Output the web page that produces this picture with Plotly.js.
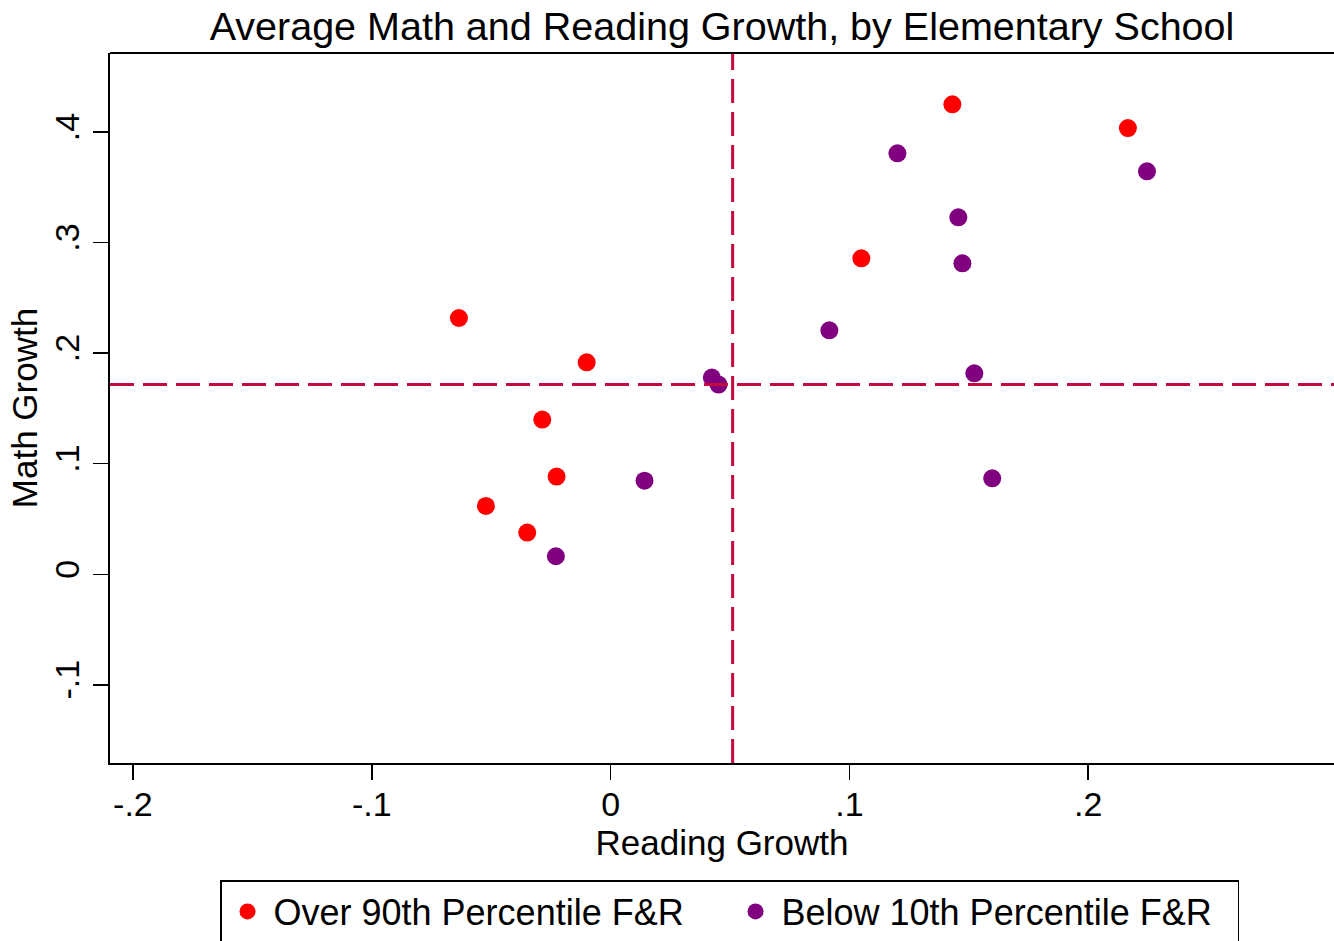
<!DOCTYPE html>
<html>
<head>
<meta charset="utf-8">
<script src="https://cdn.plot.ly/plotly-3.0.1.min.js"></script>
<style>
html,body{margin:0;padding:0;background:#fff;}
#chart{width:1334px;height:941px;}
</style>
</head>
<body>
<div id="chart"></div>
<script>
// Over 90th Percentile F&R
const overReading = [-0.0635, -0.0100, -0.0286, -0.0226, -0.0522, -0.0349, 0.1050, 0.1431, 0.2166];
const overMath    = [ 0.2318,  0.1917,  0.1399,  0.0884,  0.0618,  0.0377, 0.2858, 0.4251, 0.4036];
// Below 10th Percentile F&R
const belowReading = [0.1201, 0.1456, 0.1473, 0.0916, 0.1523, 0.1598, 0.2246, 0.0424, 0.0452, 0.0142, -0.0229];
const belowMath    = [0.3808, 0.3229, 0.2813, 0.2207, 0.1818, 0.0868, 0.3645, 0.1779, 0.1716, 0.0847,  0.0163];
// reference lines (means)
const meanReading = 0.0511;
const meanMath = 0.1716;
const seriesNames = ["Over 90th Percentile F&R", "Below 10th Percentile F&R"];
const xTickVals = [-0.2, -0.1, 0, 0.1, 0.2];
const xTickText = ["-.2", "-.1", "0", ".1", ".2"];
const yTickVals = [-0.1, 0, 0.1, 0.2, 0.3, 0.4];
const yTickText = ["-.1", "0", ".1", ".2", ".3", ".4"];

const FONT = "Liberation Sans, Arial, Helvetica, sans-serif";
const lineColor = "#C40A3E";

const traces = [
  {x: overReading, y: overMath, mode: "markers", type: "scatter", name: seriesNames[0],
   marker: {color: "#FF0000", size: 18}},
  {x: belowReading, y: belowMath, mode: "markers", type: "scatter", name: seriesNames[1],
   marker: {color: "#800080", size: 18}}
];

const layout = {
  width: 1334, height: 941,
  paper_bgcolor: "#fff", plot_bgcolor: "#fff",
  margin: {l: 110, r: 0, t: 53, b: 178, autoexpand: false},
  font: {family: FONT, color: "#000"},
  title: {text: "Average Math and Reading Growth, by Elementary School",
          font: {size: 39.5, family: FONT, color: "#000"},
          x: 0.5, xref: "paper", y: 1 - 26/941, yref: "container", yanchor: "middle"},
  xaxis: {range: [-0.2096, 0.3029], tickvals: xTickVals, ticktext: xTickText,
          showgrid: false, zeroline: false, showline: true, linecolor: "#000", linewidth: 2,
          ticks: "outside", ticklen: 15, tickwidth: 1.5, tickcolor: "#000",
          tickfont: {size: 34, family: FONT}, ticklabelstandoff: -5,
          title: {text: "Reading Growth", font: {size: 35, family: FONT}, standoff: 0}},
  yaxis: {range: [-0.1707, 0.4715], tickvals: yTickVals, ticktext: yTickText,
          showgrid: false, zeroline: false, showline: true, linecolor: "#000", linewidth: 2,
          ticks: "outside", ticklen: 15, tickwidth: 1.5, tickcolor: "#000", tickangle: -90,
          tickfont: {size: 34, family: FONT},
          title: {text: "Math Growth", font: {size: 35, family: FONT}, standoff: 0}},
  showlegend: true,
  legend: {orientation: "h", x: (220-110)/1224, xanchor: "left", y: (763-880)/710, yanchor: "top",
           bordercolor: "#000", borderwidth: 1.5, bgcolor: "#fff",
           font: {size: 36, family: FONT}, itemsizing: "trace", itemwidth: 42,
           entrywidth: 451, entrywidthmode: "pixels"},
  shapes: [
    {type: "line", xref: "x", yref: "paper", x0: meanReading, x1: meanReading, y0: 0, y1: 1,
     line: {color: lineColor, width: 3, dash: "24px,9px"}},
    {type: "line", xref: "paper", yref: "y", x0: 0, x1: 1, y0: meanMath, y1: meanMath,
     line: {color: lineColor, width: 3, dash: "24px,9px"}},
    {type: "line", xref: "paper", yref: "paper", x0: 0, x1: 1, y0: 1, y1: 1,
     line: {color: "#000", width: 2}}
  ]
};

Plotly.newPlot("chart", traces, layout, {displayModeBar: false, staticPlot: true});
</script>
</body>
</html>
